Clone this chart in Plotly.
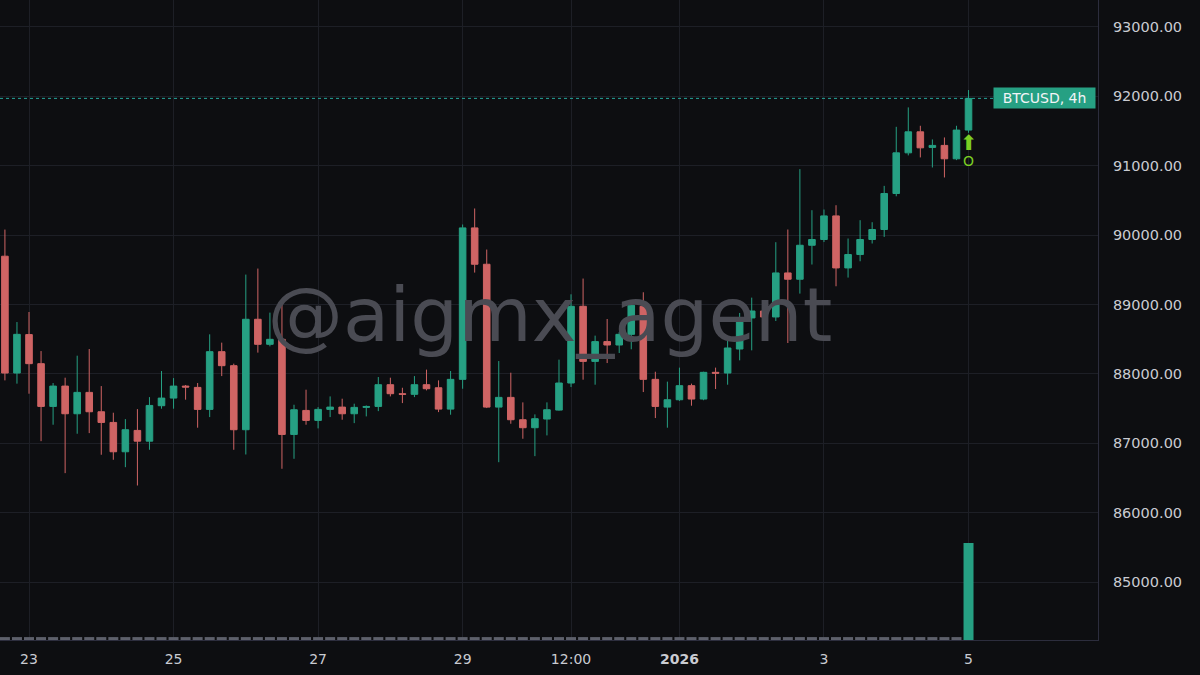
import pandas as pd
import plotly.graph_objects as go

# ---------------- data (BTCUSD, 4h candles) ----------------
start_time = "2025-12-22 16:00"
opens = [89696, 88012, 88566, 88147, 87531, 87824, 87425, 87733, 87454, 87300,
         86877, 87185, 87030, 87541, 87651, 87824, 87805, 87488, 88320, 88118,
         87195, 88787, 88426, 88498, 87127, 87473, 87329, 87488, 87521, 87425,
         87517, 87531, 87844, 87714, 87705, 87844, 87800, 87492, 87921, 90104,
         89580, 87521, 87661, 87339, 87224, 87349, 87478, 87868, 88974, 88180,
         88465, 88416, 88570, 88974, 87921, 87521, 87627, 87830, 87637, 88022,
         88012, 88358, 88806, 88906, 88820, 89455, 89364, 89854, 89937, 90277,
         89527, 89720, 89937, 90081, 90600, 91186, 91489, 91264, 91293, 91100,
         91514]
highs = [90080, 88747, 88892, 88329, 87868, 87945, 88262, 88358, 87824, 87440,
         87348, 87492, 87665, 88041, 87939, 87840, 87868, 88570, 88450, 88147,
         89431, 89518, 88883, 89013, 87555, 87772, 87521, 87675, 87642, 87570,
         87545, 87954, 87945, 87800, 87968, 88061, 87906, 88041, 90153, 90384,
         89792, 88185, 88017, 87589, 87416, 87589, 88205, 89147, 89374, 88551,
         88791, 88603, 89003, 89176, 88031, 87888, 88090, 87859, 88031, 88090,
         88484, 88878, 89099, 89061, 89898, 90081, 90951, 90359, 90369, 90431,
         89951, 90215, 90186, 90710, 91561, 91841, 91576, 91379, 91408, 91576,
         92091]
lows = [87906, 87859, 87714, 87030, 87267, 86569, 87137, 87146, 86834, 86762,
        86655, 86391, 86906, 87498, 87498, 87628, 87224, 87377, 87968, 86906,
        86838, 88306, 88397, 86632, 86776, 87267, 87214, 87377, 87339, 87290,
        87387, 87463, 87675, 87579, 87665, 87762, 87449, 87411, 87786, 89460,
        87507, 86727, 87281, 87065, 86814, 87113, 87470, 87810, 87916, 87844,
        88156, 88301, 88354, 87738, 87363, 87224, 87610, 87541, 87620, 87781,
        87844, 88195, 88339, 88531, 88762, 88445, 89157, 89576, 89900, 89263,
        89388, 89623, 89879, 89974, 90560, 91149, 91120, 90975, 90831, 91081,
        91475]
closes = [88012, 88570, 88147, 87531, 87824, 87425, 87733, 87454, 87300, 86877,
          87195, 87030, 87545, 87651, 87824, 87810, 87488, 88320, 88118, 87195,
          88787, 88426, 88498, 87127, 87483, 87329, 87488, 87521, 87425, 87517,
          87530, 87844, 87714, 87705, 87844, 87786, 87492, 87921, 90104, 89580,
          87521, 87661, 87339, 87224, 87354, 87483, 87868, 88974, 88180, 88465,
          88416, 88570, 88989, 87921, 87531, 87627, 87830, 87637, 88022, 88010,
          88373, 88806, 88906, 88820, 89455, 89364, 89854, 89937, 90277, 89527,
          89720, 89937, 90081, 90600, 91186, 91489, 91258, 91293, 91100, 91514,
          91971]
volumes = [30, 30, 30, 30, 30, 30, 30, 30, 30, 30,
           30, 30, 30, 30, 30, 30, 30, 30, 30, 30,
           30, 30, 30, 30, 30, 30, 30, 30, 30, 30,
           30, 30, 30, 30, 30, 30, 30, 30, 30, 30,
           30, 30, 30, 30, 30, 30, 30, 30, 30, 30,
           30, 30, 30, 30, 30, 30, 30, 30, 30, 30,
           30, 30, 30, 30, 30, 30, 30, 30, 30, 30,
           30, 30, 30, 30, 30, 30, 30, 30, 30, 30,
           1000]

tick_dates = ["2025-12-23", "2025-12-25", "2025-12-27", "2025-12-29",
              "2025-12-30 12:00", "2026-01-01", "2026-01-03", "2026-01-05"]
tick_labels = ["23", "25", "27", "29", "12:00", "<b>2026</b>", "3", "5"]
price_ticks = [85000, 86000, 87000, 88000, 89000, 90000, 91000, 92000, 93000]

symbol_label = "BTCUSD, 4h"
watermark = "@aigmx_agent"

# ---------------- styles ----------------
BG = "#0d0e11"
GRID = "#1d1f26"
AXIS_LINE = "#2c2d3d"
UP = "#26a083"
DOWN = "#cf6464"
TEXT = "#c9cbd1"
LIME = "#7ccf24"
FONT = "DejaVu Sans"

times = pd.date_range(start_time, periods=len(opens), freq="4h")

fig = go.Figure()

# watermark (drawn beneath candles)
fig.add_trace(go.Scatter(
    x=[pd.Timestamp("2025-12-30 05:00")], y=[88750],
    mode="text", text=[watermark],
    textfont=dict(family=FONT, size=75.5, color="#4a4b53"),
    hoverinfo="skip", showlegend=False,
))

fig.add_trace(go.Candlestick(
    x=times, open=opens, high=highs, low=lows, close=closes,
    increasing=dict(line=dict(color=UP, width=1), fillcolor=UP),
    decreasing=dict(line=dict(color=DOWN, width=1), fillcolor=DOWN),
    whiskerwidth=0, showlegend=False,
))

vol_colors = ["#5d606b"] * (len(volumes) - 1) + [UP]
fig.add_trace(go.Bar(
    x=times, y=volumes, yaxis="y2",
    marker=dict(color=vol_colors, line=dict(width=0)),
    showlegend=False, hoverinfo="skip",
))

# last price dotted line and label
last_close = closes[-1]
fig.add_shape(type="line", xref="paper", x0=0, x1=1, yref="y",
              y0=last_close, y1=last_close,
              line=dict(color="#26a69a", width=1, dash="dot"))
fig.add_annotation(
    xref="paper", x=1, xanchor="right", xshift=-2,
    yref="y", y=last_close, yanchor="middle",
    text=symbol_label, showarrow=False,
    font=dict(family=FONT, size=14, color="#f2f4f7"),
    bgcolor=UP, borderpad=2, width=97, height=16,
)

# buy signal markers under the last candle
fig.add_annotation(
    x=times[-1], y=lows[-1], xref="x", yref="y",
    text="⬆", showarrow=False, yshift=-10,
    font=dict(family=FONT, size=21, color=LIME),
)
fig.add_annotation(
    x=times[-1], y=lows[-1], xref="x", yref="y",
    text="O", showarrow=False, yshift=-28,
    font=dict(family=FONT, size=14, color=LIME),
)

fig.update_layout(
    width=1200, height=675,
    margin=dict(l=0, r=102, t=0, b=35),
    paper_bgcolor=BG, plot_bgcolor=BG,
    font=dict(family=FONT, color=TEXT),
    boxgap=0.22, bargap=0.17,
    hovermode=False,
    xaxis=dict(
        type="date",
        range=["2025-12-22 14:22", "2026-01-06 19:00"],
        tickvals=[pd.Timestamp(t) for t in tick_dates], ticktext=tick_labels,
        tickfont=dict(family=FONT, size=14, color=TEXT),
        showgrid=True, gridcolor=GRID, gridwidth=1,
        showline=True, linecolor=AXIS_LINE, linewidth=1,
        ticks="", ticklabelstandoff=6,
        rangeslider=dict(visible=False), zeroline=False,
    ),
    yaxis=dict(
        side="right", range=[84164, 93389],
        tickvals=price_ticks, tickformat=".2f",
        tickfont=dict(family=FONT, size=14.5, color=TEXT),
        showgrid=True, gridcolor=GRID, gridwidth=1,
        showline=True, linecolor=AXIS_LINE, linewidth=1,
        ticks="", ticklabelstandoff=11, zeroline=False,
    ),
    yaxis2=dict(
        overlaying="y", range=[0, 6600], visible=False, showgrid=False,
    ),
)

fig.write_html(
    "out.html",
    config={"displayModeBar": False, "staticPlot": True},
    post_script="document.body.style.margin='0';"
                "document.body.style.background='#0d0e11';"
                "document.body.style.overflow='hidden';",
)
